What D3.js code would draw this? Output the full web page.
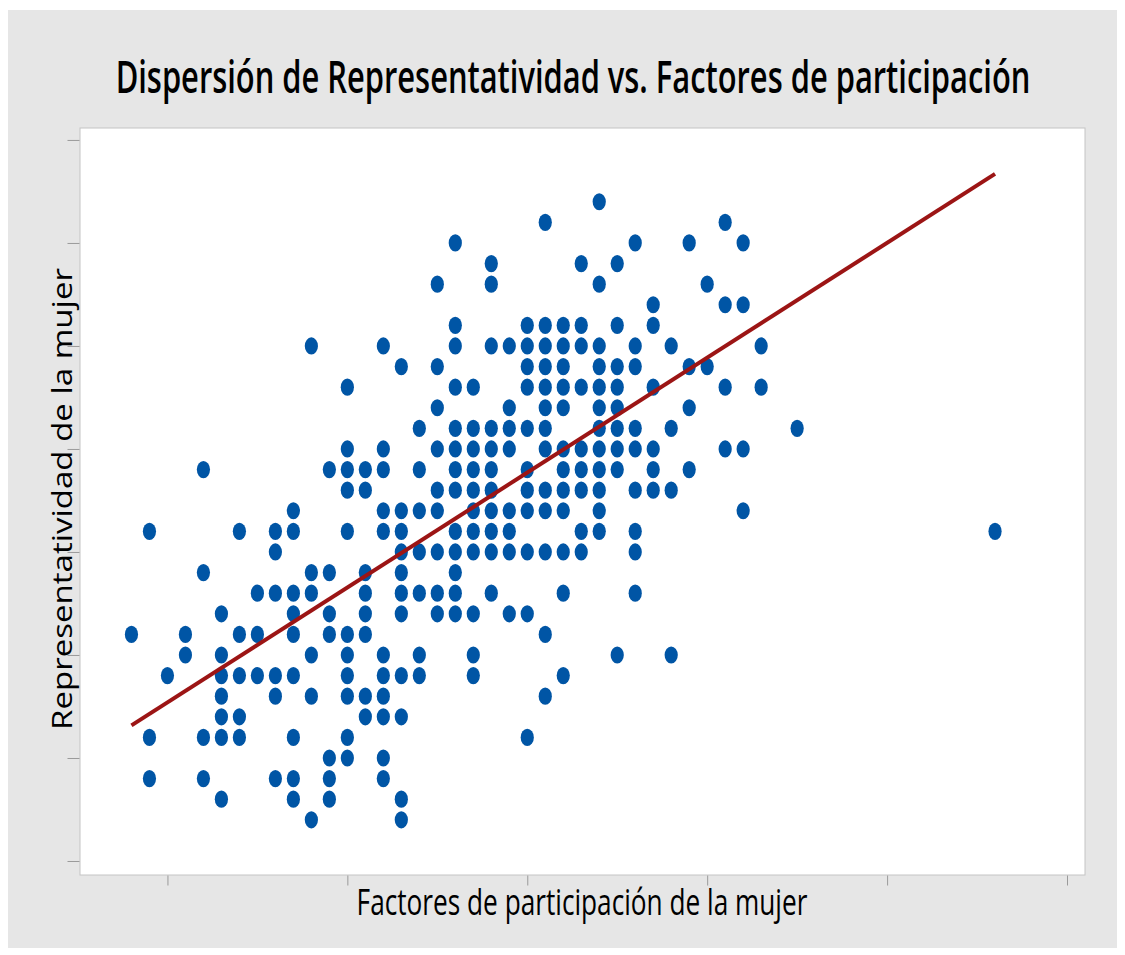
<!DOCTYPE html>
<html>
<head>
<meta charset="UTF-8">
<title>Dispersión</title>
<script src="https://d3js.org/d3.v7.min.js"></script>
<style>
  body { margin: 0; background: #fff; }
  text { font-family: "Open Sans", "Noto Sans", sans-serif; fill: #000; }
</style>
</head>
<body>
<script>
// rows of the scatter: y level and the x values that sit on it
var yLevels = [32, 31, 30, 29, 28, 27, 26, 25, 24, 23, 22, 21, 20, 19, 18, 17,
               16, 15, 14, 13, 12, 11, 10, 9, 8, 7, 6, 5, 4, 3, 2];
var xByLevel = [
  [34],
  [31, 41],
  [26, 36, 39, 42],
  [28, 33, 35],
  [25, 28, 34, 40],
  [37, 41, 42],
  [26, 30, 31, 32, 33, 35, 37],
  [18, 22, 26, 28, 29, 30, 31, 32, 33, 34, 36, 38, 43],
  [23, 25, 30, 31, 32, 34, 35, 36, 39, 40],
  [20, 26, 27, 30, 31, 32, 33, 34, 35, 37, 41, 43],
  [25, 29, 31, 32, 34, 35, 39],
  [24, 26, 27, 28, 29, 30, 31, 34, 35, 36, 38, 45],
  [20, 22, 25, 26, 27, 28, 29, 31, 32, 33, 34, 35, 36, 37, 41, 42],
  [12, 19, 20, 21, 22, 24, 26, 27, 28, 30, 32, 33, 34, 35, 37, 39],
  [20, 21, 25, 26, 27, 28, 30, 31, 32, 33, 34, 36, 37, 38],
  [17, 22, 23, 24, 25, 27, 28, 29, 30, 31, 32, 34, 42],
  [9, 14, 16, 17, 20, 22, 23, 26, 27, 28, 29, 33, 34, 36, 56],
  [16, 23, 24, 25, 26, 27, 28, 29, 30, 31, 32, 33, 36],
  [12, 18, 19, 21, 23, 26],
  [15, 16, 17, 18, 21, 23, 24, 25, 26, 28, 32, 36],
  [13, 17, 19, 21, 23, 25, 26, 27, 29, 30],
  [8, 11, 14, 15, 17, 19, 20, 21, 31],
  [11, 13, 18, 20, 22, 24, 27, 35, 38],
  [10, 13, 14, 15, 16, 17, 20, 22, 23, 24, 27, 32],
  [13, 16, 18, 20, 21, 22, 31],
  [13, 14, 21, 22, 23],
  [9, 12, 13, 14, 17, 20, 30],
  [19, 20, 22],
  [9, 12, 16, 17, 19, 22],
  [13, 17, 19, 23],
  [18, 23]
];
var xTicks = [10, 20, 30, 40, 50, 60];
var yTicks = [0, 5, 10, 15, 20, 25, 30, 35];
// fitted line
var fitIntercept = 2.12;
var fitSlope = 0.5577;

var titleText = "Dispersión de Representatividad vs. Factores de participación";
var xLabelText = "Factores de participación de la mujer";
var yLabelText = "Representatividad de la mujer";

var points = [];
yLevels.forEach(function (yv, i) {
  xByLevel[i].forEach(function (xv) { points.push({x: xv, y: yv}); });
});

var W = 1125, H = 955;
var box = {left: 80, right: 1085, top: 128, bottom: 875};

var svg = d3.select("body").append("svg")
    .attr("width", W).attr("height", H);

// outer grey frame
svg.append("rect")
    .attr("x", 8).attr("y", 10)
    .attr("width", 1109).attr("height", 938)
    .attr("fill", "#e6e6e6");

// plot area
svg.append("rect")
    .attr("x", box.left).attr("y", box.top)
    .attr("width", box.right - box.left).attr("height", box.bottom - box.top)
    .attr("fill", "#fff")
    .attr("stroke", "#c4c4c4");

var x = d3.scaleLinear().domain([5.14, 61]).range([box.left, box.right]);
var y = d3.scaleLinear().domain([-0.68, 35.58]).range([box.bottom, box.top]);

// axes: tick marks only, no labels
var gx = svg.append("g")
    .attr("transform", "translate(0," + (box.bottom + 0.5) + ")")
    .call(d3.axisBottom(x).tickValues(xTicks).tickSize(10).tickFormat(""));
var gy = svg.append("g")
    .attr("transform", "translate(" + (box.left - 0.5) + ",0)")
    .call(d3.axisLeft(y).tickValues(yTicks).tickSize(12).tickFormat(""));
[gx, gy].forEach(function (g) {
  g.select(".domain").remove();
  g.selectAll("line").attr("stroke", "#9a9a9a");
});

// points
svg.append("g").selectAll("ellipse")
    .data(points)
    .join("ellipse")
    .attr("cx", function (d) { return x(d.x); })
    .attr("cy", function (d) { return y(d.y); })
    .attr("rx", 6.6)
    .attr("ry", 8.6)
    .attr("fill", "#0055a5");

// regression line
var xMin = d3.min(points, function (d) { return d.x; });
var xMax = d3.max(points, function (d) { return d.x; });
svg.append("line")
    .attr("x1", x(xMin)).attr("y1", y(fitIntercept + fitSlope * xMin))
    .attr("x2", x(xMax)).attr("y2", y(fitIntercept + fitSlope * xMax))
    .attr("stroke", "#9c1515")
    .attr("stroke-width", 4);

// text fitted to a width, stretched vertically like the source
function fitText(str, size, weight, cx, cy, targetLen, sy, rot) {
  var t = svg.append("text")
      .attr("text-anchor", "middle")
      .style("font-size", size + "px")
      .style("font-weight", weight)
      .text(str);
  var len = t.node().getComputedTextLength();
  var sx = targetLen / len;
  t.attr("transform", "translate(" + cx + "," + cy + ")" +
      (rot ? " rotate(" + rot + ")" : "") +
      " scale(" + sx + "," + sy + ")");
  return t;
}

fitText(titleText, 33, 600, 573, 93, 915, 1.35, 0);
fitText(xLabelText, 27, 500, 582, 915, 451, 1.35, 0);
fitText(yLabelText, 27, 500, 72, 499, 462, 1, -90);
</script>
</body>
</html>
